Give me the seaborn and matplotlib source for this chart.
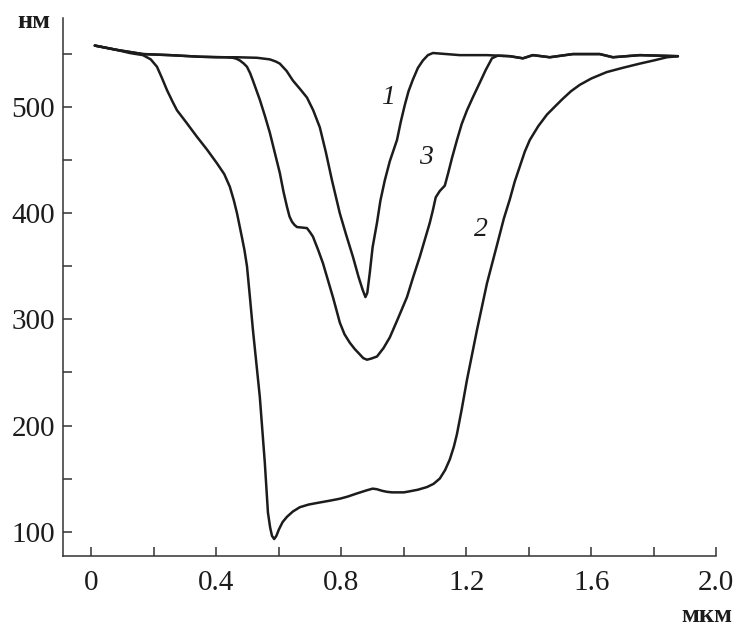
import numpy as np
import pandas as pd
import matplotlib
matplotlib.use("Agg")
import matplotlib.pyplot as plt
import seaborn as sns
from matplotlib.ticker import MultipleLocator

# Profile depth (nm) versus lateral position (um) for three traces
x1 = [0.011, 0.08, 0.165, 0.251, 0.347, 0.40, 0.466, 0.53, 0.571, 0.59,
      0.603, 0.625, 0.645, 0.668, 0.690, 0.71, 0.731, 0.75, 0.770, 0.795,
      0.815, 0.837, 0.855, 0.868, 0.877, 0.883, 0.891, 0.90, 0.914,
      0.925, 0.939, 0.955, 0.978, 0.99, 1.003, 1.015, 1.029, 1.045, 1.061,
      1.077, 1.093, 1.179, 1.266, 1.339, 1.381, 1.413, 1.467, 1.541, 1.627,
      1.669, 1.755, 1.877]
y1 = [558, 554, 550, 549, 547.5, 547, 547, 546.5, 545, 543,
      541, 534, 525, 517, 509, 497, 481, 458, 431, 400,
      380, 359, 340, 328, 321, 325, 344, 368, 391,
      412, 431, 449, 469, 486, 502, 515, 526, 537, 544,
      549, 551, 549, 549, 548, 546, 549, 547, 550, 550,
      547, 549, 548]

x2 = [0.011, 0.08, 0.123, 0.165, 0.19, 0.21, 0.225, 0.242, 0.26, 0.274,
      0.30, 0.338, 0.37, 0.402, 0.425, 0.443, 0.456, 0.466, 0.482, 0.49,
      0.498, 0.507, 0.517, 0.539, 0.555, 0.565, 0.572, 0.578, 0.585, 0.592,
      0.600, 0.612, 0.626, 0.645, 0.667, 0.695, 0.722, 0.76, 0.795, 0.82,
      0.85, 0.882, 0.90, 0.913, 0.93, 0.946, 0.962, 0.978, 1.0, 1.019,
      1.045, 1.074, 1.095, 1.115, 1.132, 1.147, 1.16, 1.170, 1.185, 1.202,
      1.234, 1.266, 1.298, 1.32, 1.339, 1.355, 1.371, 1.387, 1.403, 1.43,
      1.458, 1.485, 1.509, 1.535, 1.563, 1.60, 1.649, 1.70, 1.755, 1.80,
      1.842, 1.877]
y2 = [558, 554, 551, 549, 545, 538, 528, 516, 505, 497,
      487, 472, 460, 447, 437, 425, 412, 400, 377, 365,
      350, 322, 290, 227, 165, 118, 104, 96, 93, 96,
      102, 109, 114, 119, 123, 125.5, 127, 129, 131, 133,
      136, 139, 140.5, 140, 138.5, 137.5, 137, 137, 137, 138,
      139.5, 142, 145, 150, 158, 168, 180, 192, 215, 243,
      290, 334, 370, 395, 413, 430, 444, 458, 469, 482,
      493, 501, 508, 515, 521, 527, 533, 537, 541, 544,
      547, 548]

x3 = [0.011, 0.08, 0.165, 0.251, 0.347, 0.43, 0.453, 0.465, 0.475, 0.488,
      0.498, 0.508, 0.517, 0.528, 0.539, 0.555, 0.571, 0.587, 0.603, 0.615,
      0.626, 0.634, 0.642, 0.650, 0.658, 0.675, 0.690, 0.700, 0.709, 0.725,
      0.741, 0.757, 0.773, 0.785, 0.795, 0.81, 0.827, 0.843, 0.859, 0.870,
      0.882, 0.895, 0.914, 0.935, 0.955, 0.98, 1.010, 1.030, 1.051, 1.067,
      1.083, 1.093, 1.102, 1.115, 1.131, 1.142, 1.154, 1.170, 1.185, 1.202,
      1.222, 1.243, 1.262, 1.282, 1.30, 1.339, 1.381, 1.413, 1.467, 1.541,
      1.627, 1.669, 1.755, 1.877]
y3 = [558, 554, 550, 549, 547.5, 547, 546.5, 545.5, 544, 541,
      538, 532, 525, 516, 507, 492, 476, 457, 438, 420,
      406, 397, 392, 389, 387, 386.5, 386, 382, 378, 366,
      353, 337, 321, 308, 297, 286, 278, 272, 267, 263.5,
      262, 263, 265, 273, 283, 300, 321, 340, 359, 375,
      391, 403, 415, 421, 426, 438, 452, 469, 484, 497,
      510, 523, 535, 546, 548.5, 548, 546, 549, 547, 550,
      550, 547, 549, 548]

curve_labels = ["1", "2", "3"]
label_x = [0.948, 1.246, 1.071]
label_y = [509, 385, 453]

x_ticks = [0, 0.4, 0.8, 1.2, 1.6, 2.0]
x_tick_labels = ["0", "0.4", "0.8", "1.2", "1.6", "2.0"]
y_ticks = [100, 200, 300, 400, 500]

sns.set_style("ticks")
plt.rcParams["font.family"] = ["Liberation Serif", "DejaVu Serif"]

ink = "#1c1c1c"
fig = plt.figure(figsize=(7.40, 6.29), dpi=100)
ax = fig.add_axes([0.0855, 0.116, 0.968 - 0.0855, 0.9714 - 0.116])

for xs, ys in [(x1, y1), (x2, y2), (x3, y3)]:
    df = pd.DataFrame({"x": xs, "y": ys})
    sns.lineplot(data=df, x="x", y="y", ax=ax, color=ink, linewidth=1.8,
                 sort=False, estimator=None)
for line in ax.lines:
    line.set_solid_joinstyle("round")
    line.set_solid_capstyle("round")

for lab, lx, ly in zip(curve_labels, label_x, label_y):
    ax.text(lx, ly, lab, fontsize=20, style="italic", color=ink,
            ha="center", va="center")

ax.set_xlim(-0.09, 2.0)
ax.set_ylim(77, 584)
ax.set_xticks(x_ticks)
ax.set_xticklabels(x_tick_labels)
ax.set_yticks(y_ticks)
ax.xaxis.set_minor_locator(MultipleLocator(0.2))
ax.yaxis.set_minor_locator(MultipleLocator(50))
ax.tick_params(which="both", direction="in", length=6.5, width=1.1,
               color="#333333", labelsize=21, labelcolor=ink)
ax.tick_params(axis="y", pad=6)
ax.tick_params(axis="x", pad=10)
ax.set_xlabel("")
ax.set_ylabel("")
sns.despine(ax=ax)
for side in ["left", "bottom"]:
    ax.spines[side].set_linewidth(1.1)
    ax.spines[side].set_color("#333333")

fig.text(34 / 740, 1 - 22 / 629, "нм", fontsize=19, fontweight="bold",
         color=ink, ha="center", va="center")
fig.text(707 / 740, 1 - 615 / 629, "мкм", fontsize=19, fontweight="bold",
         color=ink, ha="center", va="center")

fig.savefig("out.png", dpi=100)
